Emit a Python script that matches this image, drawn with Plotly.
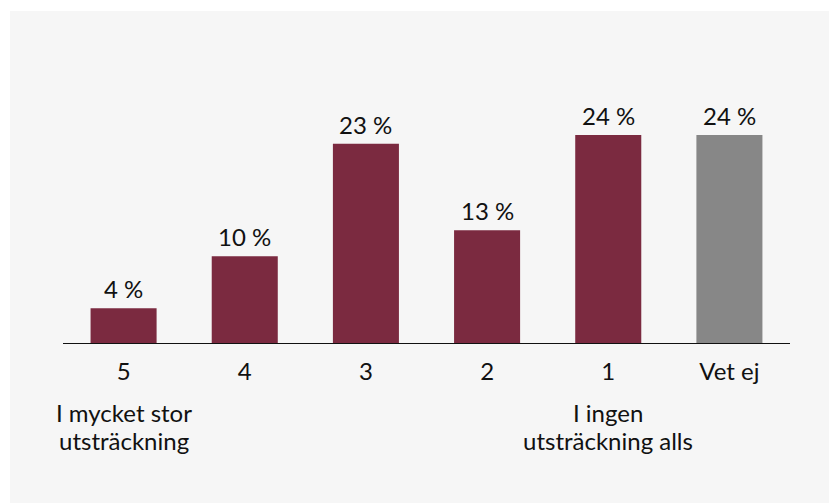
import plotly.graph_objects as go

# Survey answers on a 1-5 scale plus "don't know"
categories = ["5", "4", "3", "2", "1", "Vet ej"]
shares = [4, 10, 23, 13, 24, 24]
bar_colors = ["#7b2a40", "#7b2a40", "#7b2a40", "#7b2a40", "#7b2a40", "#878787"]
end_notes = [("5", ["I mycket stor", "utsträckning"]),
             ("1", ["I ingen", "utsträckning alls"])]

W, H = 829, 503
ML, MR, MT, MB = 63, 39, 83, 160
plot_w = W - ML - MR
plot_h = H - MT - MB
FONT = "Lato"
FS = 24
INK = "#111111"

fig = go.Figure(
    go.Bar(
        x=list(range(len(categories))),
        y=shares,
        marker=dict(color=bar_colors, line=dict(width=0)),
        hoverinfo="skip",
    )
)

# value labels above each bar
for i, v in enumerate(shares):
    fig.add_annotation(x=i, y=v, xref="x", yref="y", text=f"{v} %",
                       showarrow=False, yanchor="bottom", yshift=3,
                       font=dict(size=FS, color=INK, family=FONT))

# white frame strips on the left and top of the grey panel
def px_x(p):
    return (p - ML) / plot_w

def px_y(p):
    return (H - MB - p) / plot_h

fig.add_shape(type="rect", xref="paper", yref="paper",
              x0=px_x(0), x1=px_x(10), y0=px_y(H), y1=px_y(0),
              fillcolor="white", line=dict(width=0), layer="below")
fig.add_shape(type="rect", xref="paper", yref="paper",
              x0=px_x(0), x1=px_x(W), y0=px_y(11), y1=px_y(0),
              fillcolor="white", line=dict(width=0), layer="below")

# scale-end explanations under the first and fifth category
for cat, lines in end_notes:
    for k, line in enumerate(lines):
        fig.add_annotation(x=categories.index(cat), xref="x",
                           y=px_y(412 + 28 * k), yref="paper",
                           text=line, showarrow=False, yanchor="middle",
                           font=dict(size=FS, color=INK, family=FONT))

fig.update_layout(
    width=W, height=H,
    margin=dict(l=ML, r=MR, t=MT, b=MB),
    paper_bgcolor="#f6f6f6",
    plot_bgcolor="#f6f6f6",
    bargap=0.455,
    showlegend=False,
    font=dict(family=FONT, color=INK),
)
fig.update_xaxes(
    range=[-0.5, 5.5],
    tickmode="array", tickvals=list(range(len(categories))), ticktext=categories,
    showline=True, linecolor=INK, linewidth=1,
    showgrid=False, zeroline=False,
    ticks="outside", ticklen=7, tickcolor="rgba(0,0,0,0)",
    tickfont=dict(size=FS, color=INK, family=FONT),
)
fig.update_yaxes(range=[0, 30], visible=False)

fig.write_html("out.html")
